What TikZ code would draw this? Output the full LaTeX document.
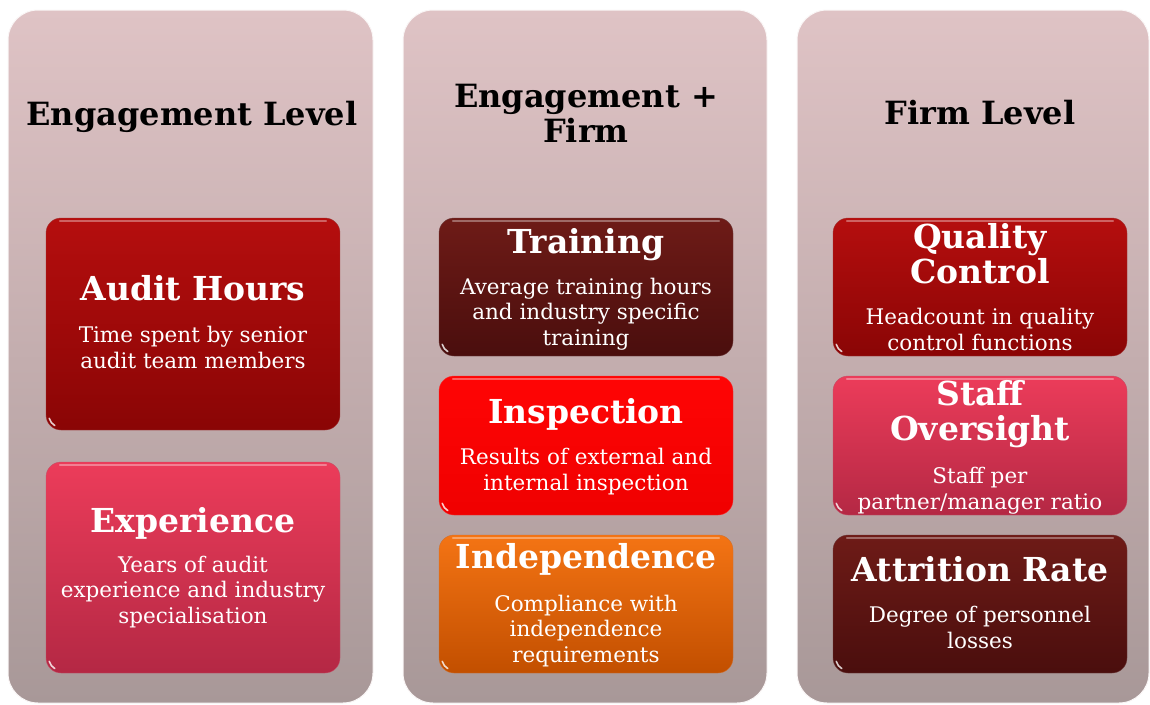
\documentclass[tikz,border=0pt]{standalone}
\usepackage{fontspec}
\setmainfont{DejaVu Serif}
\definecolor{panelTop}{HTML}{DFC3C5}
\definecolor{panelBot}{HTML}{A89898}
\definecolor{redTop}{HTML}{B50E0E}
\definecolor{redBot}{HTML}{8A0505}
\definecolor{pinkTop}{HTML}{EC3C5A}
\definecolor{pinkBot}{HTML}{B42844}
\definecolor{brownTop}{HTML}{6E1B17}
\definecolor{brownBot}{HTML}{4A0E0D}
\definecolor{inspTop}{HTML}{FF0505}
\definecolor{inspBot}{HTML}{F00000}
\definecolor{orangeTop}{HTML}{F47414}
\definecolor{orangeBot}{HTML}{C24F00}
\tikzset{
  panel/.style={rounded corners=30pt,top color=panelTop,bottom color=panelBot,draw=white!85!panelTop,line width=1pt},
  card/.style={rectangle,rounded corners=15pt,minimum width=294pt,inner sep=0pt,draw=#1Bot!80!white,top color=#1Top,bottom color=#1Bot},
  gloss/.style={white,opacity=.35,line width=2pt,line cap=round},
  shine/.style={white,opacity=.8,line width=1.6pt,line cap=round},
  head/.style={anchor=base,font=\fontsize{32}{35}\selectfont\bfseries,align=center},
  title/.style={anchor=base,text=white,font=\fontsize{33}{35}\selectfont\bfseries,align=center},
  sub/.style={anchor=base,text=white,font=\fontsize{21.5}{25.5}\selectfont,align=center}
}
\begin{document}
\begin{tikzpicture}[x=1pt,y=-1pt]
\useasboundingbox (0,0) rectangle (1150,704);
\clip (0,0) rectangle (1150,704);

%
% columns
%
\draw[panel] (8,10) rectangle (373,703);
\draw[panel] (403,10) rectangle (767,703);
\draw[panel] (797,10) rectangle (1149,703);

% base anchor = last line
\node (engHead) [head] at (192,125) {Engagement Level};
\node (mixHead) [head] at (586,142) {Engagement +\\Firm};
\node (firmHead) [head] at (980,124) {Firm Level};

%
% engagement level
%
\node (audit) [card=red,minimum height=212pt] at (193,324) {};
\node (exper) [card=pink,minimum height=211pt] at (193,567.5) {};

\node (auditTitle) [title] at (193,300) {Audit Hours};
\node (auditText) [sub] at (193,368) {Time spent by senior\\audit team members};
\node (experTitle) [title] at (193,532) {Experience};
\node (experText) [sub] at (193,623) {Years of audit\\experience and industry\\specialisation};

%
% engagement + firm
%
\node (train) [card=brown,minimum height=138pt] at (586,287) {};
\node (insp) [card=insp,minimum height=139pt] at (586,445.5) {};
\node (indep) [card=orange,minimum height=138pt] at (586,604) {};

\node (trainTitle) [title] at (586,253) {Training};
\node (trainText) [sub] at (586,345) {Average training hours\\and industry specific\\training};
\node (inspTitle) [title] at (586,423) {Inspection};
\node (inspText) [sub] at (586,490) {Results of external and\\internal inspection};
\node (indepTitle) [title] at (586,568) {Independence};
\node (indepText) [sub] at (586,662) {Compliance with\\independence\\requirements};

%
% firm level
%
\node (qual) [card=red,minimum height=138pt] at (980,287) {};
\node (staff) [card=pink,minimum height=139pt] at (980,445.5) {};
\node (attr) [card=brown,minimum height=138pt] at (980,604) {};

\node (qualTitle) [title] at (980,283) {Quality\\Control};
\node (qualText) [sub] at (980,350) {Headcount in quality\\control functions};
\node (staffTitle) [title] at (980,440) {Staff\\Oversight};
\node (staffText) [sub] at (980,509) {Staff per\\partner/manager ratio};
\node (attrTitle) [title] at (980,581) {Attrition Rate};
\node (attrText) [sub] at (980,648) {Degree of personnel\\losses};

% shine of the cards (top edge, lower left corner)
\foreach \c in {audit,exper,train,insp,indep,qual,staff,attr} {
  \draw[gloss] ([xshift=14pt,yshift=-3pt]\c.north west) -- ([xshift=-14pt,yshift=-3pt]\c.north east);
  \draw[shine] ([shift={(15pt,15pt)}]\c.south west) ++(195:12pt) arc[start angle=195,end angle=240,radius=12pt];
}

\end{tikzpicture}
\end{document}
